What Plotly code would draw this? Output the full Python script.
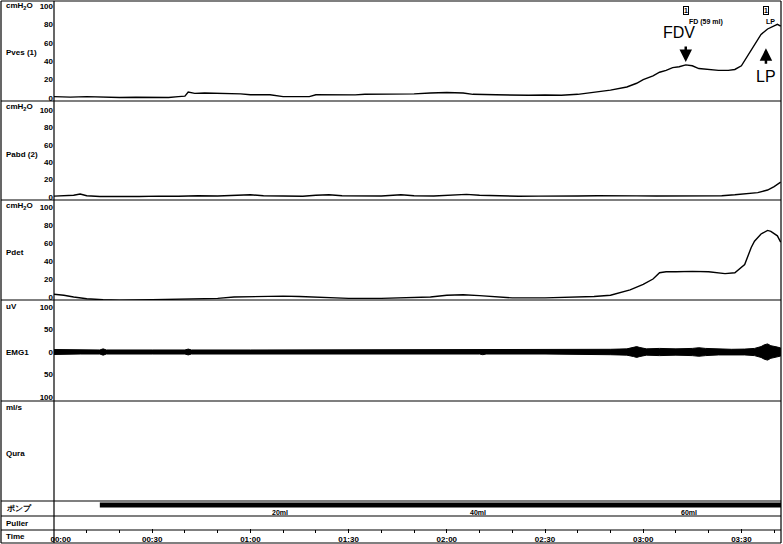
import plotly.graph_objects as go

W, H = 783, 544
FONT = "Liberation Sans"

# ---------------- data ----------------
time_ticks = [0, 30, 60, 90, 120, 150, 180, 210]
time_labels = ["\u00a0\u00a0\u00a0\u00a0\u00a0\u00a000:00", "00:30", "01:00", "01:30", "02:00", "02:30", "03:00", "03:30"]
time_minor = [10, 20, 40, 50, 70, 80, 100, 110, 130, 140, 160, 170, 190, 200, 220]
t_end = 222.1

pves_t = [0, 5, 10, 14, 20, 25, 30, 35, 38, 40, 41, 43, 46, 50, 54, 57, 60, 63, 66, 70, 74, 78, 80, 84, 88,
          92, 95, 100, 105, 110, 115, 120, 125, 128, 135, 140, 145, 150, 155, 160, 165, 170, 175, 178, 180,
          183, 185, 187, 189, 191, 193, 195, 197, 200, 203, 206, 208, 210, 212, 214, 216, 218, 220, 221, 222]
pves = [1.5, 1, 1.5, 1, 0.5, 0.8, 1, 0.5, 1.5, 2, 6.5, 5, 5.5, 5, 5.2, 4.5, 3.5, 3.8, 3.5, 1.5, 1.2, 1.5, 3.5,
        3.2, 3, 3.4, 4, 4.2, 4, 4.5, 5.5, 6, 5.5, 4, 3.5, 3, 3, 3.2, 3, 4, 6, 8.5, 12, 16, 20, 24, 28, 30, 33,
        34, 36, 35, 32, 31, 30, 30, 31, 35, 46, 58, 69, 75, 78, 80, 78]

pabd_t = [0, 3, 6, 8, 10, 14, 20, 26, 32, 38, 44, 50, 56, 60, 64, 70, 76, 80, 84, 88, 94, 100, 106, 110, 116,
          122, 126, 130, 136, 142, 148, 154, 160, 166, 172, 178, 184, 190, 196, 200, 204, 208, 212, 215, 218,
          220, 222]
pabd = [1, 1.5, 2, 3.5, 1.5, 0.5, 0.3, 0.5, 1, 0.8, 1.5, 1.2, 2, 2.5, 1.5, 1, 0.8, 2, 2.5, 1.5, 1, 1.2, 2.5,
        1.5, 1.2, 2.5, 3, 2, 1, 0.8, 1, 0.8, 1.2, 1.5, 1, 1.3, 1.2, 1.5, 1.8, 1.2, 1.5, 2.5, 3.5, 5, 8, 12, 17]

pdet_t = [0, 3, 6, 10, 15, 20, 30, 40, 50, 55, 60, 65, 70, 75, 80, 85, 90, 100, 110, 115, 120, 125, 130, 135,
          140, 150, 155, 160, 165, 170, 173, 176, 180, 183, 185, 187, 190, 195, 200, 203, 205, 208, 210, 211,
          213, 214, 216, 218, 219, 221, 222]
pdet = [3, 2, 0, -2, -3, -3.5, -3, -2.5, -1.5, 0, 0.5, 0.5, 1, 0.5, 0, -1, -1.5, -1.5, -1, 0, 2, 2.5, 1.5, 0,
        -1, -1, -0.5, 0, 0.5, 2, 5, 8, 14, 20, 27, 28, 28, 28.5, 28, 27, 26, 27, 33, 36, 55, 62, 70, 74, 73,
        68, 61]

emg_t = [0, 4, 8, 14, 15, 16, 30, 40, 41, 42, 60, 70, 71, 72, 90, 100, 101, 102, 120, 130, 131, 132, 150, 160,
         165, 170, 175, 177, 178, 179, 181, 185, 190, 195, 197, 199, 203, 207, 211, 214, 216, 217, 218, 219,
         221, 222]
emg_amp = [5.5, 5, 4.5, 4.5, 7, 4.5, 4.5, 4.5, 6.5, 4.5, 4.5, 4.5, 6, 4.5, 4.5, 4.5, 6, 4.5, 4.5, 4.5, 6, 4.5,
           4.5, 5, 5.5, 6, 7, 10, 12, 10, 7, 8, 7, 8, 9.5, 8, 6.5, 6, 6.5, 8, 12, 16, 18, 14, 11, 9]

pump_t = [14, t_end]
pump_on = [1, 1]
pump_label_t = [69, 129.5, 194]
pump_labels = ["20ml", "40ml", "60ml"]

fdv_t = 193
lp_t = 217.5

# ---------------- layout helpers ----------------
def py(p):
    return 1 - p / H

def px(p):
    return p / W

X0, X1 = 54, 781
LINE = dict(color="black", width=1.4)

fig = go.Figure()
fig.add_trace(go.Scatter(x=pves_t, y=pves, xaxis="x", yaxis="y", mode="lines", line=LINE, hoverinfo="skip"))
fig.add_trace(go.Scatter(x=pabd_t, y=pabd, xaxis="x", yaxis="y2", mode="lines", line=LINE, hoverinfo="skip"))
fig.add_trace(go.Scatter(x=pdet_t, y=pdet, xaxis="x", yaxis="y3", mode="lines", line=LINE, hoverinfo="skip"))
fig.add_trace(go.Scatter(x=emg_t + emg_t[::-1], y=emg_amp + [-a for a in emg_amp[::-1]],
                         xaxis="x", yaxis="y4", mode="lines", fill="toself", fillcolor="black",
                         line=dict(color="black", width=1), hoverinfo="skip"))
fig.add_trace(go.Scatter(x=pump_t, y=pump_on, xaxis="x", yaxis="y6", mode="lines",
                         line=dict(color="black", width=5), hoverinfo="skip"))

tickfont = dict(family=FONT, size=8, color="black", weight="bold")

def yax(top, bot, rng, tv, tt=None):
    d = dict(domain=[py(bot), py(top)], range=rng, anchor="x", showgrid=False, zeroline=False,
             showline=False, ticks="", tickfont=tickfont, fixedrange=True)
    if tv is None:
        d.update(showticklabels=False)
    else:
        d.update(tickmode="array", tickvals=tv, ticktext=tt if tt else [str(v) for v in tv])
    return d

fig.update_layout(
    width=W, height=H, margin=dict(l=0, r=0, t=0, b=0, autoexpand=False),
    paper_bgcolor="white", plot_bgcolor="white", showlegend=False,
    xaxis=dict(domain=[px(X0), px(X1)], range=[0, t_end], anchor="free", position=py(533),
               showgrid=False, zeroline=False, showline=False,
               tickmode="array", tickvals=time_ticks, ticktext=time_labels,
               ticks="inside", ticklen=4, tickwidth=1, tickcolor="black", tickfont=tickfont,
               ticklabelstandoff=0,
               minor=dict(tickvals=time_minor, ticks="inside", ticklen=3, tickwidth=1, tickcolor="black"),
               fixedrange=True),
    yaxis=yax(1, 101, [-3.26, 105.4], [0, 20, 40, 60, 80, 100]),
    yaxis2=yax(101, 200, [-3.45, 110.3], [0, 20, 40, 60, 80, 100]),
    yaxis3=yax(200, 300, [-3.33, 107.8], [0, 20, 40, 60, 80, 100]),
    yaxis4=yax(300, 401, [-108.9, 115.6], [-100, -50, 0, 50, 100], ["100", "50", "0", "50", "100"]),
    yaxis5=yax(401, 501, [-1.67, 53.9], [0, 10, 20, 30, 40, 50]),
    yaxis6=yax(501, 516, [0, 1.35], None),
)

# frame lines
shapes = []
for yy in [1, 101, 200, 300, 401, 501, 516, 530, 543]:
    shapes.append(dict(type="line", xref="paper", yref="paper", x0=px(1), x1=px(X1), y0=py(yy), y1=py(yy),
                       line=dict(color="black", width=1.2)))
for xx in [1, X0, X1]:
    shapes.append(dict(type="line", xref="paper", yref="paper", x0=px(xx), x1=px(xx), y0=py(1), y1=py(543),
                       line=dict(color="black", width=1.2)))
fig.update_layout(shapes=shapes)

ann = []
lf = dict(family=FONT, size=8, color="black", weight="bold")
def lab(text, y, x=4):
    ann.append(dict(text=text, x=px(x), y=py(y), xref="paper", yref="paper", xanchor="left", yanchor="middle",
                    showarrow=False, font=lf))

lab("cmH<sub>2</sub>O", 6); lab("Pves (1)", 53)
lab("cmH<sub>2</sub>O", 107); lab("Pabd (2)", 154)
lab("cmH<sub>2</sub>O", 206); lab("Pdet", 252)
lab("uV", 306); lab("EMG1", 352)
lab("ml/s", 407); lab("Qura", 453)
lab("ポンプ", 508); lab("Puller", 523); lab("Time", 536)

for t, s in zip(pump_label_t, pump_labels):
    ann.append(dict(text=s, x=t, y=0.35, xref="x", yref="y6", showarrow=False,
                    font=dict(family=FONT, size=7, color="black", weight="bold")))

# event markers
for t in [fdv_t, lp_t]:
    ann.append(dict(text="1", x=t, y=py(6), xref="x", yref="paper", showarrow=False,
                    font=dict(family=FONT, size=7, color="black", weight="bold"), bordercolor="black",
                    borderwidth=1, borderpad=0))
ann.append(dict(text="FD (59 ml)", x=fdv_t + 0.3, y=py(16), xref="x", yref="paper", xanchor="left",
                showarrow=False, font=dict(family=FONT, size=7, color="black", weight="bold")))
ann.append(dict(text="LP", x=lp_t + 1.5, y=py(16), xref="x", yref="paper", showarrow=False,
                font=dict(family=FONT, size=7, color="black", weight="bold")))
ann.append(dict(text="FDV", x=fdv_t - 2, y=71, xref="x", yref="y", showarrow=False,
                font=dict(family=FONT, size=16, color="black")))
ann.append(dict(text="", x=fdv_t, y=39, xref="x", yref="y", showarrow=True, ax=0, ay=-17,
                arrowhead=2, arrowsize=1, arrowwidth=2.5, arrowcolor="black"))
ann.append(dict(text="LP", x=lp_t, y=23, xref="x", yref="y", showarrow=False,
                font=dict(family=FONT, size=16, color="black")))
ann.append(dict(text="", x=lp_t, y=54, xref="x", yref="y", showarrow=True, ax=0, ay=17,
                arrowhead=2, arrowsize=1, arrowwidth=2.5, arrowcolor="black"))
fig.update_layout(annotations=ann)

fig.write_html("out.html", config={"displayModeBar": False, "staticPlot": True},
               post_script="document.body.style.margin='0';document.body.style.overflow='hidden';")
